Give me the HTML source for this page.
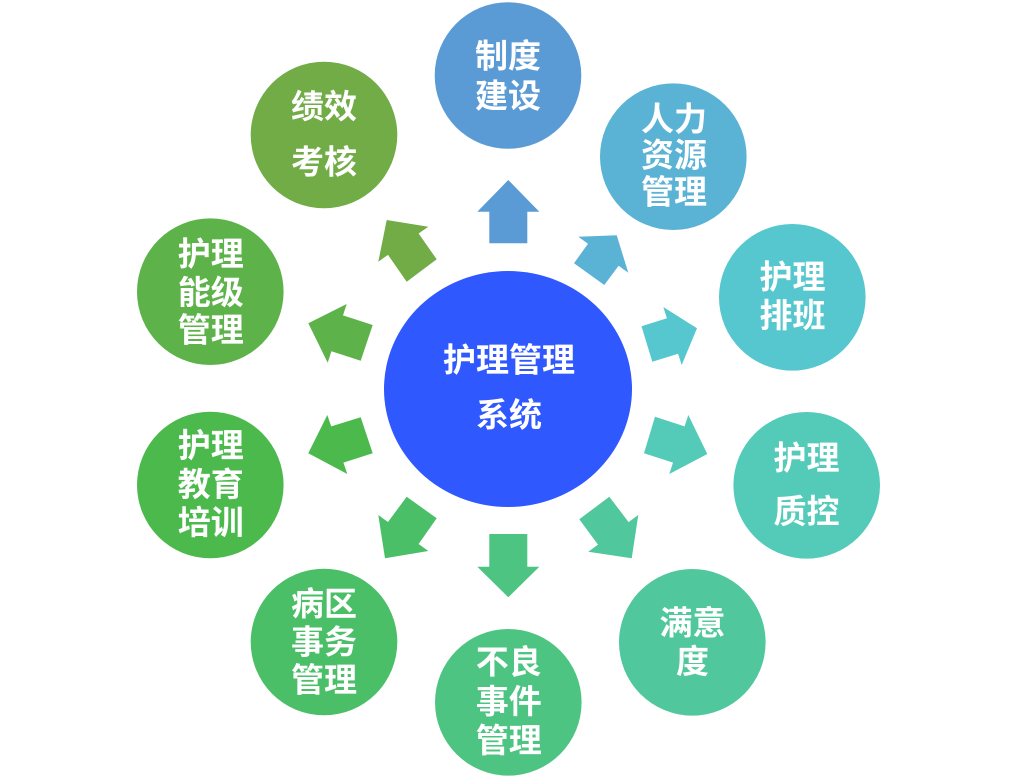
<!DOCTYPE html>
<html>
<head>
<meta charset="utf-8">
<style>
  html, body { margin: 0; padding: 0; background: #ffffff; }
  svg { display: block; }
  text { font-family: "Liberation Sans", "Noto Sans CJK SC", "WenQuanYi Zen Hei", sans-serif; font-weight: bold; font-size: 33px; fill: #ffffff; text-anchor: middle; }
</style>
</head>
<body>
<svg width="1016" height="783" viewBox="0 0 1016 783" xmlns="http://www.w3.org/2000/svg">
  <!-- center -->
  <ellipse cx="508" cy="389" rx="124" ry="118" fill="#2f58ff"/>
  <text x="509" y="371.5">护理管理</text>
  <text x="509" y="426.5">系统</text>

  <!-- arrows -->
  <polygon fill="#5b9bd5" points="508.3,180 539.3,211.7 527.3,211.7 527.3,243.3 489.3,243.3 489.3,211.7 477.3,211.7"/>
  <polygon fill="#5ab2d4" points="616.7,235.3 628.3,272.7 618.6,265.7 604.3,285 574,263.3 588,243.7 578.3,236.7"/>
  <polygon fill="#56c7cf" points="697,328.3 681.7,365 678.1,353.7 652.3,361.7 641.5,326.3 666.9,318.3 663.3,307"/>
  <polygon fill="#54cab9" points="707.3,454 669.3,474 673,462.6 644,453.3 655,416.7 684.6,426.4 688.3,415"/>
  <polygon fill="#50c79d" points="631.7,558.3 588.3,551.7 598,544.6 579.3,519.3 609.3,496.7 628.6,522.1 638.3,515"/>
  <polygon fill="#4dc481" points="508.3,597.3 477.3,566.7 489.3,566.7 489.3,534 527.3,534 527.3,566.7 539.3,566.7"/>
  <polygon fill="#4abf67" points="385,558.3 378.3,515 388,522 406.7,496.7 436.7,518.3 418.6,544 428.3,551"/>
  <polygon fill="#4bb94c" points="308.3,453.3 327.3,415 331.2,426.4 360.7,417.3 372.7,453.3 343.4,462.6 347.3,474"/>
  <polygon fill="#5db34a" points="308.3,323.3 346.7,304 343,315.4 372.7,325 360.7,360.7 331.4,351.3 327.7,362.7"/>
  <polygon fill="#71ac47" points="386.7,220 428.3,226.7 418.6,233.5 436.7,259.3 406.7,281.7 388,254.9 378.3,261.7"/>

  <!-- outer circles -->
  <circle cx="508" cy="75.5" r="73.3" fill="#5b9bd5"/>
  <text x="508" y="67.5">制度</text>
  <text x="508" y="107.5">建设</text>

  <circle cx="673.3" cy="156.7" r="73.3" fill="#5ab2d4"/>
  <text x="674" y="130.5">人力</text>
  <text x="674" y="166.5">资源</text>
  <text x="674" y="203.5">管理</text>

  <circle cx="792.3" cy="297.3" r="73.3" fill="#56c7cf"/>
  <text x="792.5" y="288.5">护理</text>
  <text x="792.5" y="327">排班</text>

  <circle cx="806.7" cy="485.3" r="73.3" fill="#54cab9"/>
  <text x="806.5" y="469.5">护理</text>
  <text x="806.5" y="523">质控</text>

  <circle cx="692.3" cy="642.3" r="73.3" fill="#50c79d"/>
  <text x="692.5" y="634.5">满意</text>
  <text x="692.5" y="673">度</text>

  <circle cx="508.3" cy="702.3" r="73.3" fill="#4dc481"/>
  <text x="508.7" y="673.5">不良</text>
  <text x="508.7" y="713">事件</text>
  <text x="508.7" y="752">管理</text>

  <circle cx="324" cy="642" r="73.3" fill="#4abf67"/>
  <text x="324" y="615.5">病区</text>
  <text x="324" y="653.5">事务</text>
  <text x="324" y="691.5">管理</text>

  <circle cx="210.3" cy="485" r="73.3" fill="#4bb94c"/>
  <text x="210.8" y="457.2">护理</text>
  <text x="210.8" y="495.8">教育</text>
  <text x="210.8" y="534.2">培训</text>

  <circle cx="210.3" cy="291.7" r="73.3" fill="#5db34a"/>
  <text x="210.8" y="265.5">护理</text>
  <text x="210.8" y="304.2">能级</text>
  <text x="210.8" y="341.5">管理</text>

  <circle cx="324" cy="135" r="73.3" fill="#71ac47"/>
  <text x="324" y="118">绩效</text>
  <text x="324" y="173.5">考核</text>
</svg>
</body>
</html>
